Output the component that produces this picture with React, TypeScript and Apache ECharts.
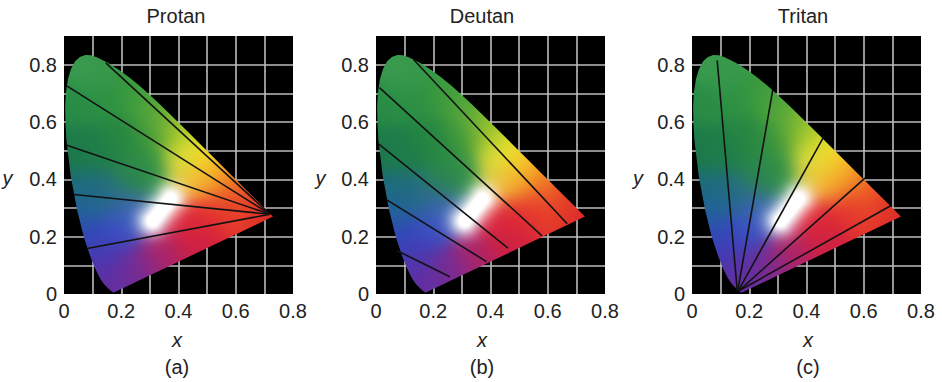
import React, { useEffect, useRef } from "react";
import * as echarts from "echarts";

// CIE 1931 spectral locus (x, y), violet end -> red end
const LOCUS_X = [
  0.1741, 0.1714, 0.1644, 0.1566, 0.144, 0.1355, 0.1241, 0.1096, 0.0913, 0.0687,
  0.0454, 0.0235, 0.0082, 0.005, 0.0039, 0.007, 0.0139, 0.0245, 0.0389, 0.0555,
  0.0743, 0.094, 0.1142, 0.1547, 0.1929, 0.2296, 0.2658, 0.3016, 0.3373, 0.3731,
  0.4087, 0.4441, 0.4788, 0.5125, 0.5448, 0.5752, 0.6029, 0.627, 0.6658, 0.6915,
  0.719, 0.73,
];
const LOCUS_Y = [
  0.005, 0.0051, 0.0109, 0.0177, 0.0297, 0.0399, 0.0578, 0.0868, 0.1327, 0.2007,
  0.295, 0.4127, 0.5384, 0.6, 0.6548, 0.705, 0.7502, 0.785, 0.812, 0.827,
  0.8338, 0.8325, 0.8262, 0.8059, 0.7816, 0.7543, 0.7243, 0.6923, 0.6589, 0.6245,
  0.5896, 0.5547, 0.5202, 0.4866, 0.4544, 0.4242, 0.3965, 0.3725, 0.334, 0.3083,
  0.2809, 0.27,
];

// Confusion lines
const PROTAN_START_X = [0.146, 0.011, 0.01, 0.035, 0.081];
const PROTAN_START_Y = [0.806, 0.725, 0.519, 0.347, 0.159];
const PROTAN_END_X = [0.72, 0.72, 0.72, 0.72, 0.72];
const PROTAN_END_Y = [0.278, 0.278, 0.278, 0.278, 0.278];

const DEUTAN_START_X = [0.132, 0.012, 0.01, 0.035, 0.072];
const DEUTAN_START_Y = [0.817, 0.72, 0.523, 0.33, 0.152];
const DEUTAN_END_X = [0.668, 0.58, 0.461, 0.386, 0.258];
const DEUTAN_END_Y = [0.245, 0.203, 0.16, 0.113, 0.06];

const TRITAN_START_X = [0.088, 0.282, 0.46, 0.605, 0.694];
const TRITAN_START_Y = [0.815, 0.711, 0.548, 0.405, 0.308];
const TRITAN_END_X = [0.158, 0.16, 0.162, 0.164, 0.166];
const TRITAN_END_Y = [0.012, 0.012, 0.012, 0.012, 0.012];

const PANEL_TITLES = ["Protan", "Deutan", "Tritan"];
const PANEL_TAGS = ["(a)", "(b)", "(c)"];
const X_MIN = 0;
const X_MAX = 0.8;
const Y_MIN = 0;
const Y_MAX = 0.9;
const TICK_STEP = 0.1;

// colour anchors used to paint the chromaticity fill
const COLOR_ANCHORS: number[][] = [
  [0.07, 0.8, 58, 155, 80],
  [0.12, 0.78, 55, 152, 74],
  [0.03, 0.66, 40, 140, 70],
  [0.15, 0.68, 44, 144, 68],
  [0.24, 0.7, 60, 155, 62],
  [0.3, 0.66, 80, 165, 58],
  [0.1, 0.5, 30, 126, 72],
  [0.02, 0.5, 28, 120, 74],
  [0.2, 0.55, 38, 134, 66],
  [0.3, 0.55, 55, 148, 60],
  [0.36, 0.6, 125, 185, 52],
  [0.41, 0.55, 185, 208, 42],
  [0.47, 0.48, 246, 234, 36],
  [0.42, 0.45, 220, 222, 70],
  [0.52, 0.43, 246, 178, 36],
  [0.47, 0.4, 245, 170, 55],
  [0.58, 0.38, 240, 118, 36],
  [0.65, 0.32, 232, 70, 40],
  [0.71, 0.28, 218, 40, 42],
  [0.55, 0.3, 228, 52, 46],
  [0.45, 0.25, 224, 40, 54],
  [0.45, 0.18, 204, 32, 68],
  [0.35, 0.14, 172, 36, 104],
  [0.26, 0.09, 124, 42, 145],
  [0.18, 0.03, 100, 46, 160],
  [0.15, 0.12, 80, 52, 172],
  [0.1, 0.2, 52, 68, 186],
  [0.19, 0.22, 58, 80, 196],
  [0.06, 0.29, 34, 96, 160],
  [0.05, 0.37, 28, 108, 122],
  [0.14, 0.34, 36, 108, 130],
  [0.24, 0.4, 40, 132, 78],
  [0.23, 0.3, 62, 100, 182],
  [0.3, 0.43, 48, 145, 70],
];

function makeFillImage(): string {
  const W = 400;
  const H = 450;
  const canvas = document.createElement("canvas");
  canvas.width = W;
  canvas.height = H;
  const ctx = canvas.getContext("2d");
  if (!ctx) return "";
  const img = ctx.createImageData(W, H);
  const ax1 = 0.31, ay1 = 0.255, ax2 = 0.372, ay2 = 0.332;
  const sx = ax2 - ax1, sy = ay2 - ay1;
  const sl = sx * sx + sy * sy;
  const s2 = 2 * 0.05 * 0.05;
  const g2 = 2 * 0.036 * 0.036;
  for (let j = 0; j < H; j++) {
    const y = Y_MAX - ((j + 0.5) / H) * (Y_MAX - Y_MIN);
    for (let i = 0; i < W; i++) {
      const x = X_MIN + ((i + 0.5) / W) * (X_MAX - X_MIN);
      let wr = 0, wg = 0, wb = 0, ws = 0;
      for (const a of COLOR_ANCHORS) {
        const dx = x - a[0], dy = y - a[1];
        const d2 = dx * dx + dy * dy;
        const w = Math.exp(-d2 / s2) + 1e-9 / (d2 + 0.001);
        wr += w * a[2];
        wg += w * a[3];
        wb += w * a[4];
        ws += w;
      }
      let r = wr / ws, g = wg / ws, b = wb / ws;
      let t = ((x - ax1) * sx + (y - ay1) * sy) / sl;
      t = Math.max(0, Math.min(1, t));
      const px = ax1 + t * sx - x, py = ay1 + t * sy - y;
      const dd = px * px + py * py;
      const wW = Math.min(1, 1.15 * Math.exp(-dd / g2));
      r = r + (255 - r) * wW;
      g = g + (255 - g) * wW;
      b = b + (255 - b) * wW;
      const k = (j * W + i) * 4;
      img.data[k] = r;
      img.data[k + 1] = g;
      img.data[k + 2] = b;
      img.data[k + 3] = 255;
    }
  }
  ctx.putImageData(img, 0, 0);
  return canvas.toDataURL("image/png");
}

const FONT = "'Liberation Sans', Arial, Helvetica, sans-serif";
const TEXT_COLOR = "#222";
const FS = 20;

export default function App() {
  const ref = useRef<HTMLDivElement>(null);
  useEffect(() => {
    if (!ref.current) return;
    const chart = echarts.init(ref.current, undefined, { renderer: "svg" });
    const fill = makeFillImage();

    const lefts = [64, 376, 692];
    const gridW = 229;
    const gridTop = 36;
    const gridH = 258;
    const titleX = [176, 482, 803];
    const yNameX = [7.5, 320.5, 638];
    const xNameX = [177, 482, 808];

    const fmt = (v: number) => {
      const k = Math.round(v * 10);
      if (k % 2 !== 0) return "";
      return k === 0 ? "0" : (k / 10).toFixed(1);
    };

    const grids = lefts.map((l) => ({
      left: l,
      top: gridTop,
      width: gridW,
      height: gridH,
      show: true,
      backgroundColor: "#000",
      borderWidth: 0,
      containLabel: false,
    }));
    const splitLine = {
      show: true,
      showMinLine: false,
      showMaxLine: false,
      lineStyle: { color: "#bdbdbd", width: 1.6 },
    };
    const labelStyle = {
      formatter: fmt,
      fontSize: FS,
      fontFamily: FONT,
      color: TEXT_COLOR,
      margin: 7,
    };
    const xAxes = lefts.map((_, i) => ({
      type: "value",
      gridIndex: i,
      min: X_MIN,
      max: X_MAX,
      interval: TICK_STEP,
      axisLine: { show: false },
      axisTick: { show: false },
      splitLine,
      axisLabel: labelStyle,
    }));
    const yAxes = lefts.map((_, i) => ({
      type: "value",
      gridIndex: i,
      min: Y_MIN,
      max: Y_MAX,
      interval: TICK_STEP,
      axisLine: { show: false },
      axisTick: { show: false },
      splitLine,
      axisLabel: labelStyle,
    }));

    const series: any[] = [];
    lefts.forEach((_, i) => {
      series.push({
        type: "custom",
        xAxisIndex: i,
        yAxisIndex: i,
        silent: true,
        clip: false,
        z: 2,
        data: [[X_MIN, Y_MIN]],
        renderItem: (_p: any, api: any) => {
          const tl = api.coord([X_MIN, Y_MAX]);
          const br = api.coord([X_MAX, Y_MIN]);
          const pts = LOCUS_X.map((x, k) => api.coord([x, LOCUS_Y[k]]));
          return {
            type: "image",
            style: {
              image: fill,
              x: tl[0],
              y: tl[1],
              width: br[0] - tl[0],
              height: br[1] - tl[1],
            },
            clipPath: { type: "polygon", shape: { points: pts } },
          };
        },
      });
    });

    const addLines = (
      idx: number,
      sxs: number[],
      sys: number[],
      exs: number[],
      eys: number[]
    ) => {
      sxs.forEach((sx, k) => {
        series.push({
          type: "line",
          xAxisIndex: idx,
          yAxisIndex: idx,
          silent: true,
          z: 3,
          symbol: "none",
          lineStyle: { color: "#121212", width: 1.6 },
          data: [
            [sx, sys[k]],
            [exs[k], eys[k]],
          ],
        });
      });
    };
    addLines(0, PROTAN_START_X, PROTAN_START_Y, PROTAN_END_X, PROTAN_END_Y);
    addLines(1, DEUTAN_START_X, DEUTAN_START_Y, DEUTAN_END_X, DEUTAN_END_Y);
    addLines(2, TRITAN_START_X, TRITAN_START_Y, TRITAN_END_X, TRITAN_END_Y);

    const textStyleBase = { fontFamily: FONT, fill: TEXT_COLOR, fontSize: FS };
    const graphics: any[] = [];
    lefts.forEach((_, i) => {
      graphics.push({
        type: "text",
        x: titleX[i],
        y: 16,
        style: { ...textStyleBase, text: PANEL_TITLES[i], align: "center", verticalAlign: "middle" },
      });
      graphics.push({
        type: "text",
        x: yNameX[i],
        y: 178,
        style: { ...textStyleBase, text: "y", fontStyle: "italic", align: "center", verticalAlign: "middle" },
      });
      graphics.push({
        type: "text",
        x: xNameX[i],
        y: 340,
        style: { ...textStyleBase, text: "x", fontStyle: "italic", align: "center", verticalAlign: "middle" },
      });
      graphics.push({
        type: "text",
        x: xNameX[i],
        y: 367,
        style: { ...textStyleBase, text: PANEL_TAGS[i], align: "center", verticalAlign: "middle" },
      });
    });

    chart.setOption({
      animation: false,
      backgroundColor: "#fff",
      grid: grids,
      xAxis: xAxes,
      yAxis: yAxes,
      series,
      graphic: graphics,
    });
    return () => chart.dispose();
  }, []);
  return (
    <div
      ref={ref}
      style={{ position: "fixed", left: 0, top: 0, width: 942, height: 382 }}
    />
  );
}
